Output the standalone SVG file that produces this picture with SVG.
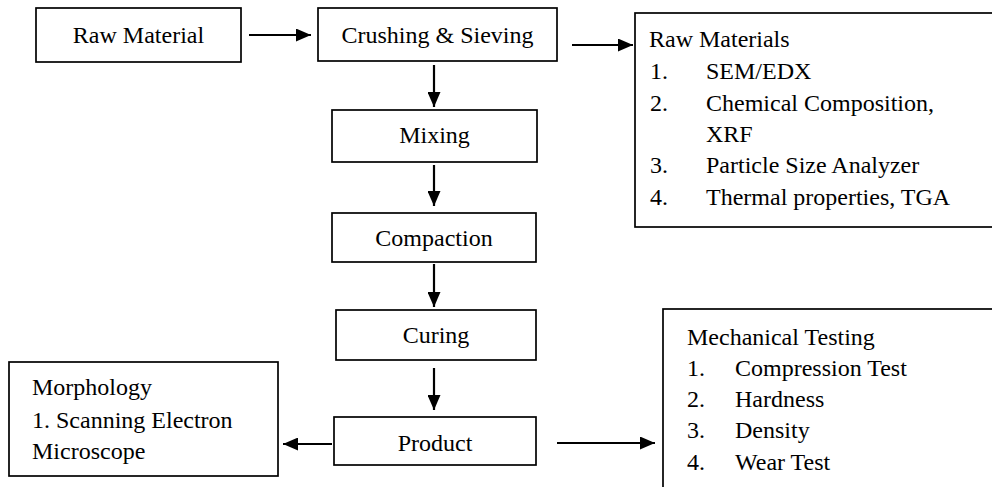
<svg xmlns="http://www.w3.org/2000/svg" width="992" height="487" viewBox="0 0 992 487">
  <style>
    .box { fill: #ffffff; stroke: #000000; stroke-width: 1.7; }
    .t { font-family: "Liberation Serif", "Times New Roman", serif; font-size: 24px; fill: #000000; }
    .c { text-anchor: middle; }
    .conn { stroke: #000000; stroke-width: 2.2; fill: none; marker-end: url(#arrow); }
  </style>
  <defs>
    <marker id="arrow" markerUnits="userSpaceOnUse" markerWidth="15" markerHeight="13" refX="15" refY="6.5" orient="auto">
      <path d="M0,0 L15,6.5 L0,13 z" fill="#000000"/>
    </marker>
  </defs>
  <rect width="992" height="487" fill="#ffffff"/>

  <g id="raw-material">
    <rect class="box" x="36" y="8" width="205" height="54"/>
    <text class="t c" x="138.5" y="43">Raw Material</text>
  </g>
  <g id="crushing-sieving">
    <rect class="box" x="318" y="8" width="239" height="53"/>
    <text class="t c" x="437.5" y="43">Crushing &amp; Sieving</text>
  </g>
  <g id="raw-materials-analysis">
    <rect class="box" x="635" y="13" width="365" height="214"/>
    <text class="t" x="649" y="47">Raw Materials</text>
    <text class="t" x="650" y="79">1.</text>
    <text class="t" x="706" y="79">SEM/EDX</text>
    <text class="t" x="650" y="111">2.</text>
    <text class="t" x="706" y="111">Chemical Composition,</text>
    <text class="t" x="706" y="142">XRF</text>
    <text class="t" x="650" y="173">3.</text>
    <text class="t" x="706" y="173">Particle Size Analyzer</text>
    <text class="t" x="650" y="205">4.</text>
    <text class="t" x="706" y="205">Thermal properties, TGA</text>
  </g>
  <g id="mixing">
    <rect class="box" x="332" y="110" width="205" height="52"/>
    <text class="t c" x="434.5" y="143">Mixing</text>
  </g>
  <g id="compaction">
    <rect class="box" x="332" y="213" width="204" height="49"/>
    <text class="t c" x="434" y="246">Compaction</text>
  </g>
  <g id="curing">
    <rect class="box" x="336" y="310" width="200" height="50"/>
    <text class="t c" x="436" y="343">Curing</text>
  </g>
  <g id="product">
    <rect class="box" x="334" y="417" width="202" height="48"/>
    <text class="t c" x="435" y="451">Product</text>
  </g>
  <g id="morphology">
    <rect class="box" x="9" y="362" width="269" height="114"/>
    <text class="t" x="32" y="395">Morphology</text>
    <text class="t" x="32" y="428">1. Scanning Electron</text>
    <text class="t" x="32" y="459">Microscope</text>
  </g>
  <g id="mechanical-testing">
    <rect class="box" x="663" y="309" width="340" height="190"/>
    <text class="t" x="687" y="345">Mechanical Testing</text>
    <text class="t" x="687" y="376">1.</text>
    <text class="t" x="735" y="376">Compression Test</text>
    <text class="t" x="687" y="407">2.</text>
    <text class="t" x="735" y="407">Hardness</text>
    <text class="t" x="687" y="438">3.</text>
    <text class="t" x="735" y="438">Density</text>
    <text class="t" x="687" y="470">4.</text>
    <text class="t" x="735" y="470">Wear Test</text>
  </g>

  <g id="connectors">
    <line class="conn" x1="249" y1="35" x2="311" y2="35"/>
    <line class="conn" x1="572" y1="45" x2="633" y2="45"/>
    <line class="conn" x1="434" y1="65" x2="434" y2="107"/>
    <line class="conn" x1="434" y1="165" x2="434" y2="206"/>
    <line class="conn" x1="434" y1="264" x2="434" y2="307"/>
    <line class="conn" x1="434" y1="368" x2="434" y2="410"/>
    <line class="conn" x1="332" y1="444" x2="283" y2="444"/>
    <line class="conn" x1="557" y1="443" x2="655" y2="443"/>
  </g>
</svg>
